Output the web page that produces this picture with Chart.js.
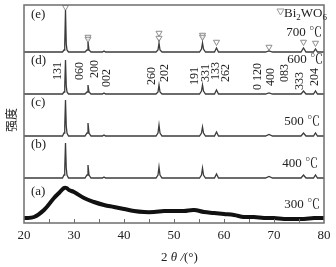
<!DOCTYPE html>
<html>
<head>
<meta charset="utf-8">
<script src="https://cdn.jsdelivr.net/npm/chart.js@4/dist/chart.umd.min.js"></script>
<style>
  html, body { margin: 0; padding: 0; background: #fff; }
  #wrap { width: 336px; height: 267px; position: relative; }
</style>
</head>
<body>
<div id="wrap"><canvas id="xrd" width="336" height="267"></canvas></div>
<script>
// 2theta positions shared by the crystalline patterns (b-e)
var twoTheta = [20, 27.7, 28.0, 28.15, 28.3, 28.45, 28.6, 28.9, 32.2, 32.6, 32.8, 33.0, 33.4,
  35.7, 36.0, 36.3, 46.4, 46.8, 47.0, 47.2, 47.6, 55.1, 55.5, 55.7, 55.9, 56.3,
  58.1, 58.5, 58.9, 68.3, 69.0, 69.7, 75.4, 75.9, 76.4, 77.9, 78.3, 78.7, 80];

var int400 = [0, 0, 3, 10, 35, 10, 3, 0, 0, 3, 13, 3, 0, 0, 1, 0, 0, 3, 11, 3, 0, 0, 3, 10, 3, 0, 0, 4, 0, 0, 1.5, 0, 0, 3, 0, 0, 3, 0, 0];
var int500 = [0, 0, 3, 10, 36, 10, 3, 0, 0, 3, 13, 3, 0, 0, 1, 0, 0, 3, 11, 3, 0, 0, 3, 9, 3, 0, 0, 4, 0, 0, 1.5, 0, 0, 3, 0, 0, 3, 0, 0];
var int600 = [0, 0, 2, 8, 34, 8, 2, 0, 0, 2, 9, 2, 0, 0, 1, 0, 0, 2, 9, 2, 0, 0, 3, 9, 3, 0, 0, 4, 0, 0, 1, 0, 0, 3, 0, 0, 3, 0, 0];
var int700 = [0, 0, 2, 8, 42, 8, 2, 0, 0, 2, 10, 2, 0, 0, 1, 0, 0, 2, 9, 2, 0, 0, 3, 9, 3, 0, 0, 4, 0, 0, 1, 0, 0, 4, 0, 0, 3, 0, 0];

// amorphous sample (a), 300 C
var theta300 = [20, 22, 24, 26, 27, 28, 28.5, 29, 30, 32, 34, 36, 38, 40, 42, 44, 46, 48, 50, 52, 54, 56, 58, 60, 62, 64, 66, 68, 70, 72, 74, 76, 78, 80];
var int300 = [5, 6, 13, 25, 30, 35, 35, 33, 31, 25, 21, 18, 16, 14, 12, 11, 11, 12, 12, 12, 13, 11, 10, 9, 8, 6, 6, 5, 5, 4, 4, 4, 5, 5];

// vertical offsets of the stacked patterns
var offsets = { a: 0, b: 45, c: 87, d: 129, e: 171 };

// Bi2WO6 markers over the 700 C pattern
var markX = [28.3, 32.8, 32.8, 47.0, 47.0, 55.7, 55.7, 58.5, 69.0, 75.9, 78.3];
var markY = [216, 186, 184, 190, 185, 188, 186, 181, 176, 181, 180];

// hkl indices of the 600 C pattern
var hklText = ['131', '060', '200', '002', '260', '202', '191', '331', '133', '262', '0 120', '400', '083', '333', '204'];
var hklPos = [26.8, 31.2, 34.2, 36.6, 45.6, 48.2, 54.2, 56.4, 58.4, 60.4, 66.8, 69.4, 72.2, 75.2, 78.2];
var hklBase = [143, 143, 145, 136, 138, 141, 138, 141, 143, 141, 133, 137, 141, 133, 137];

var tempLabels = ['300 ℃', '400 ℃', '500 ℃', '600 ℃', '700 ℃'];
var panelLabels = ['(a)', '(b)', '(c)', '(d)', '(e)'];

function pts(xs, ys, off) {
  var out = [];
  for (var i = 0; i < xs.length; i++) out.push({ x: xs[i], y: ys[i] + off });
  return out;
}

var SERIF = '"Liberation Serif", "Noto Serif CJK SC", "Noto Sans CJK SC", serif';
var lineColor = '#3c3c3c';

var annotate = {
  id: 'annotate',
  afterDraw: function (chart) {
    var ctx = chart.ctx, xs = chart.scales.x, ys = chart.scales.y, a = chart.chartArea;
    ctx.save();
    // frame
    ctx.strokeStyle = '#6e6e6e';
    ctx.lineWidth = 1.5;
    ctx.strokeRect(a.left, a.top, a.right - a.left, a.bottom - a.top);
    // inner ticks every 5 deg
    ctx.lineWidth = 1;
    for (var t = 25; t < 80; t += 5) {
      var px = Math.round(xs.getPixelForValue(t)) + 0.5;
      ctx.beginPath();
      ctx.moveTo(px, a.bottom);
      ctx.lineTo(px, a.bottom - 4);
      ctx.stroke();
    }
    ctx.fillStyle = '#222';
    // panel letters
    ctx.font = '13px ' + SERIF;
    ctx.textBaseline = 'middle';
    ctx.textAlign = 'left';
    var letterY = [192, 145, 103, 61, 15];
    for (var i = 0; i < panelLabels.length; i++) {
      ctx.fillText(panelLabels[i], a.left + 7, letterY[i]);
    }
    // temperatures
    ctx.textAlign = 'right';
    var tempY = [205, 164, 122, 60, 33];
    var tempX = [320, 318, 320, 323, 322];
    for (i = 0; i < tempLabels.length; i++) {
      ctx.fillText(tempLabels[i], tempX[i], tempY[i]);
    }
    // hkl labels, rotated
    ctx.font = '12px ' + SERIF;
    ctx.textAlign = 'left';
    for (i = 0; i < hklText.length; i++) {
      ctx.save();
      ctx.translate(xs.getPixelForValue(hklPos[i]), ys.getPixelForValue(hklBase[i]));
      ctx.rotate(-Math.PI / 2);
      ctx.fillText(hklText[i], 0, 0);
      ctx.restore();
    }
    // Bi2WO6 legend
    ctx.font = '13px ' + SERIF;
    var lx = 284, ly = 14;
    ctx.fillText('Bi', lx, ly);
    lx += ctx.measureText('Bi').width;
    ctx.font = '9px ' + SERIF;
    ctx.fillText('2', lx, ly + 4);
    lx += ctx.measureText('2').width;
    ctx.font = '13px ' + SERIF;
    ctx.fillText('WO', lx, ly);
    lx += ctx.measureText('WO').width;
    ctx.font = '9px ' + SERIF;
    ctx.fillText('6', lx, ly + 4);
    ctx.strokeStyle = '#9a9a9a';
    ctx.beginPath();
    ctx.moveTo(277, 9); ctx.lineTo(284, 9); ctx.lineTo(280.5, 15); ctx.closePath();
    ctx.stroke();
    // x title: 2 theta /(deg)
    ctx.font = '13px ' + SERIF;
    ctx.textAlign = 'left';
    var tx = 161, ty = 258;
    ctx.fillText('2 ', tx, ty);
    tx += ctx.measureText('2 ').width;
    ctx.font = 'italic 13px ' + SERIF;
    ctx.fillText('θ /', tx, ty);
    tx += ctx.measureText('θ /').width;
    ctx.font = '13px ' + SERIF;
    ctx.fillText('(°)', tx, ty);
    // y title
    ctx.save();
    ctx.translate(11, 120);
    ctx.rotate(-Math.PI / 2);
    ctx.textAlign = 'center';
    ctx.font = '12px "Noto Sans CJK SC", sans-serif';
    ctx.fillText('强度', 0, 0);
    ctx.restore();
    ctx.restore();
  }
};

var markers = [];
for (var m = 0; m < markX.length; m++) markers.push({ x: markX[m], y: markY[m] });

var chart = new Chart(document.getElementById('xrd'), {
  type: 'line',
  data: {
    datasets: [
      { label: '300', data: pts(theta300, int300, offsets.a), borderColor: '#111', borderWidth: 4, tension: 0.4 },
      { label: '400', data: pts(twoTheta, int400, offsets.b), borderColor: lineColor, borderWidth: 1.3, tension: 0 },
      { label: '500', data: pts(twoTheta, int500, offsets.c), borderColor: lineColor, borderWidth: 1.3, tension: 0 },
      { label: '600', data: pts(twoTheta, int600, offsets.d), borderColor: lineColor, borderWidth: 1.3, tension: 0 },
      { label: '700', data: pts(twoTheta, int700, offsets.e), borderColor: lineColor, borderWidth: 1.3, tension: 0 },
      { label: 'Bi2WO6', type: 'scatter', data: markers, pointStyle: 'triangle', rotation: 180,
        pointRadius: 3.5, borderColor: '#8c8c8c', backgroundColor: 'rgba(255,255,255,0.6)', borderWidth: 1 }
    ]
  },
  options: {
    responsive: false,
    animation: false,
    devicePixelRatio: 1,
    layout: { padding: { left: 24, right: 12, top: 5, bottom: 0 } },
    elements: { point: { radius: 0 } },
    plugins: { legend: { display: false }, tooltip: { enabled: false } },
    scales: {
      x: {
        type: 'linear', min: 20, max: 80,
        grid: { display: false, drawTicks: false },
        border: { display: false },
        ticks: { stepSize: 10, padding: 5, color: '#222', font: { family: SERIF, size: 13 } },
        afterFit: function (s) { s.height = 44; }
      },
      y: { display: false, min: 0, max: 218 }
    }
  },
  plugins: [annotate]
});
</script>
</body>
</html>
